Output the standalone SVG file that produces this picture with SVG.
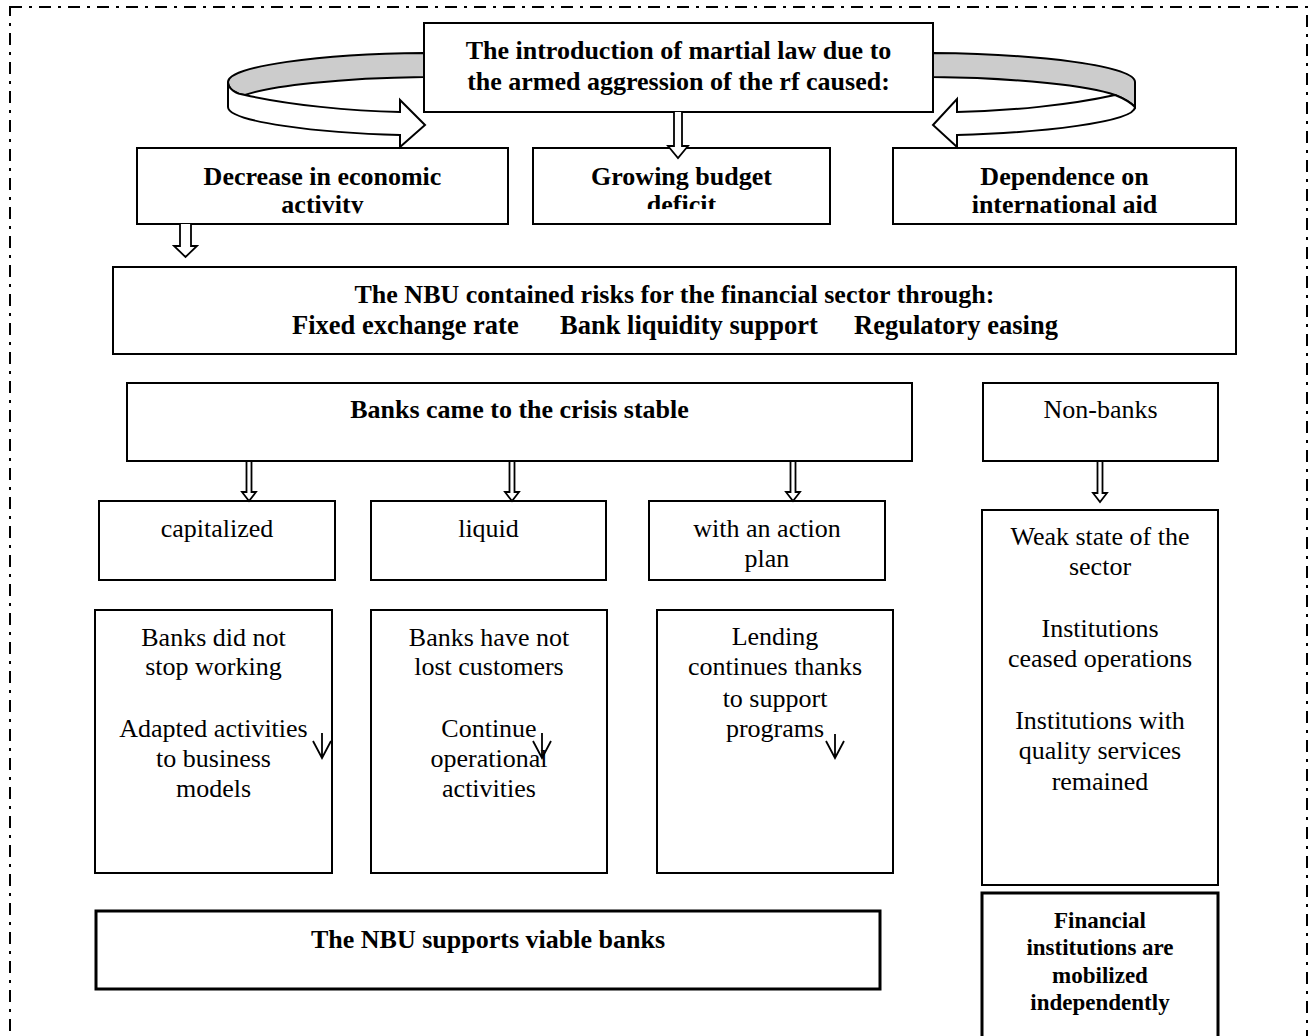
<svg xmlns="http://www.w3.org/2000/svg" width="1310" height="1036" viewBox="0 0 1310 1036">
<style>
.box{fill:#fff;stroke:#000;stroke-width:2}
.box3{fill:#fff;stroke:#000;stroke-width:3}
.b{font-family:"Liberation Serif","Times New Roman",serif;font-weight:bold;font-size:26px;text-anchor:middle;fill:#000}
.r{font-family:"Liberation Serif","Times New Roman",serif;font-size:26px;text-anchor:middle;fill:#000}
.arr{fill:#fff;stroke:#000;stroke-width:1.8;stroke-linejoin:miter}
.grey{fill:#cccccc;stroke:#000;stroke-width:2}
.rib{fill:#fff;stroke:#000;stroke-width:2}
.thin{fill:none;stroke:#000;stroke-width:1.8}
</style>
<defs>
<clipPath id="clipL"><rect x="137" y="148" width="371" height="65.5"/></clipPath>
<clipPath id="clipM"><rect x="533" y="148" width="297" height="61"/></clipPath>
<clipPath id="clipR"><rect x="893" y="148" width="343" height="65.5"/></clipPath>
</defs>
<rect width="1310" height="1036" fill="#fff"/>
<rect x="10" y="7" width="1297" height="1100" fill="none" stroke="#000" stroke-width="2" stroke-dasharray="12 7 3 7"/>

<g id="node-title">
<rect class="box" x="424" y="23" width="509" height="89"/>
<text class="b" x="678.5" y="59">The introduction of martial law due to</text>
<text class="b" x="678.5" y="90">the armed aggression of the rf caused:</text>
</g>
<g id="node-decrease">
<rect class="box" x="137" y="148" width="371" height="76"/>
<text class="b" x="322.5" y="185">Decrease in economic</text>
<text class="b" x="322.5" y="213" clip-path="url(#clipL)">activity</text>
</g>
<g id="node-budget">
<rect class="box" x="533" y="148" width="297" height="76"/>
<text class="b" x="681.5" y="185">Growing budget</text>
<text class="b" x="681.5" y="213" clip-path="url(#clipM)">deficit</text>
</g>
<g id="node-dependence">
<rect class="box" x="893" y="148" width="343" height="76"/>
<text class="b" x="1064.5" y="185">Dependence on</text>
<text class="b" x="1064.5" y="213" clip-path="url(#clipR)">international aid</text>
</g>
<g id="node-nbu-risks">
<rect class="box" x="113" y="267" width="1123" height="87"/>
<text class="b" x="674.5" y="303" font-size="26.5">The NBU contained risks for the financial sector through:</text>
<text class="b" x="292" y="334" style="text-anchor:start;font-size:26.5px">Fixed exchange rate</text>
<text class="b" x="560" y="334" style="text-anchor:start;font-size:26.5px">Bank liquidity support</text>
<text class="b" x="854" y="334" style="text-anchor:start;font-size:26.5px">Regulatory easing</text>
</g>
<g id="node-banks-stable">
<rect class="box" x="127" y="383" width="785" height="78"/>
<text class="b" x="519.5" y="418">Banks came to the crisis stable</text>
</g>
<g id="node-nonbanks">
<rect class="box" x="983" y="383" width="235" height="78"/>
<text class="r" x="1100.5" y="418">Non-banks</text>
</g>
<g id="node-capitalized">
<rect class="box" x="99" y="501" width="236" height="79"/>
<text class="r" x="217" y="537">capitalized</text>
</g>
<g id="node-liquid">
<rect class="box" x="371" y="501" width="235" height="79"/>
<text class="r" x="488.5" y="537">liquid</text>
</g>
<g id="node-action">
<rect class="box" x="649" y="501" width="236" height="79"/>
<text class="r" x="767" y="537">with an action</text>
<text class="r" x="767" y="567">plan</text>
</g>
<g id="node-working">
<rect class="box" x="95" y="610" width="237" height="263"/>
<text class="r" x="213.5" y="646">Banks did not</text>
<text class="r" x="213.5" y="675">stop working</text>
<text class="r" x="213.5" y="737">Adapted activities</text>
<text class="r" x="213.5" y="767">to business</text>
<text class="r" x="213.5" y="797">models</text>
</g>
<g id="node-customers">
<rect class="box" x="371" y="610" width="236" height="263"/>
<text class="r" x="489" y="646">Banks have not</text>
<text class="r" x="489" y="675">lost customers</text>
<text class="r" x="489" y="737">Continue</text>
<text class="r" x="489" y="767">operational</text>
<text class="r" x="489" y="797">activities</text>
</g>
<g id="node-lending">
<rect class="box" x="657" y="610" width="236" height="263"/>
<text class="r" x="775" y="645">Lending</text>
<text class="r" x="775" y="675">continues thanks</text>
<text class="r" x="775" y="707">to support</text>
<text class="r" x="775" y="737">programs</text>
</g>
<g id="node-weak">
<rect class="box" x="982" y="510" width="236" height="375"/>
<text class="r" x="1100" y="545">Weak state of the</text>
<text class="r" x="1100" y="575">sector</text>
<text class="r" x="1100" y="637">Institutions</text>
<text class="r" x="1100" y="667">ceased operations</text>
<text class="r" x="1100" y="729">Institutions with</text>
<text class="r" x="1100" y="759">quality services</text>
<text class="r" x="1100" y="790">remained</text>
</g>
<g id="node-nbu-supports">
<rect class="box3" x="96" y="911" width="784" height="78"/>
<text class="b" x="488" y="948">The NBU supports viable banks</text>
</g>
<g id="node-financial">
<rect class="box3" x="982" y="893" width="236" height="160"/>
<text class="b" x="1100" y="928" style="font-size:23px">Financial</text>
<text class="b" x="1100" y="955" style="font-size:23px">institutions are</text>
<text class="b" x="1100" y="983" style="font-size:23px">mobilized</text>
<text class="b" x="1100" y="1010" style="font-size:23px">independently</text>
</g>

<g id="connectors">
<path class="grey" d="M424,53 C320,54 228,66 228,82 C228,89 236,94 245,95 C270,86 340,78 424,77 Z"/>
<path class="rib" d="M228,82 C228,89 236,94 245,95 C290,105 350,111 400,112 L400,100 L425,125 L400,147 L400,135 C320,133 228,122 228,107 Z"/>
<path class="grey" d="M933,53 C1040,54 1135,66 1135,82 L1135,107 C1128,100 1120,97 1115,95 C1090,86 1020,78 933,77 Z"/>
<path class="rib" d="M1115,95 C1120,97 1128,100 1135,107 C1135,122 1040,133 957,135 L957,147 L933,125 L957,99 L957,112 C1010,111 1070,105 1115,95 Z"/>
<path class="arr" d="M674,112 V146 H668 L678,158 L688,146 H682 V112"/>
<path class="arr" d="M180,224 V246 H174 L185.5,257 L197,246 H191 V224"/>
<path class="arr" d="M246.5,462 V492 H242 L249,501 L256,492 H251.5 V462"/>
<path class="arr" d="M509.5,462 V492 H505 L512,501 L519,492 H514.5 V462"/>
<path class="arr" d="M790.5,462 V492 H786 L793,501 L800,492 H795.5 V462"/>
<path class="arr" d="M1097.5,462 V493 H1093 L1100,502 L1107,493 H1102.5 V462"/>
<path class="thin" d="M322,733 V758 M313,741 L322,758 L331,741"/>
<path class="thin" d="M542,733 V758 M533,741 L542,758 L551,741"/>
<path class="thin" d="M835,734 V758 M826,741 L835,758 L844,741"/>
</g>
</svg>
